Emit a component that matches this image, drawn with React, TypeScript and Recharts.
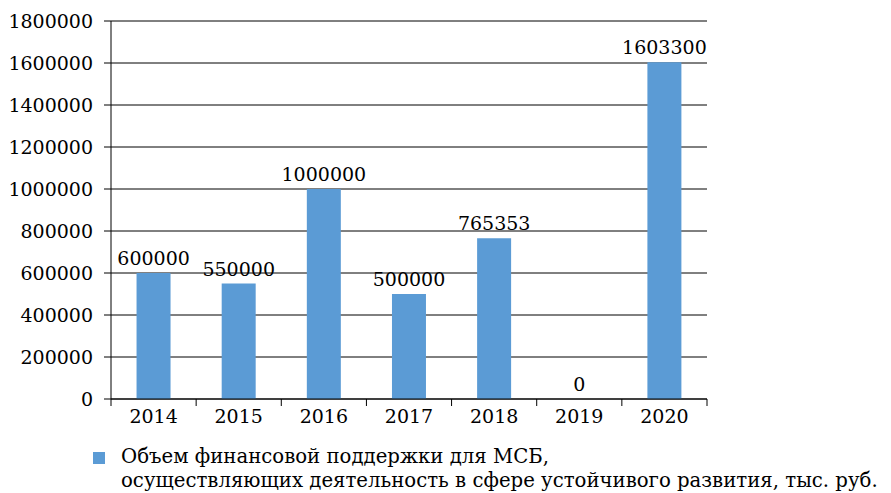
import React from 'react';
import { Bar, ComposedChart, CartesianGrid, LabelList, Line, XAxis, YAxis } from 'recharts';

const years = ['2014', '2015', '2016', '2017', '2018', '2019', '2020'];
const support = [600000, 550000, 1000000, 500000, 765353, 0, 1603300];
const yTicks = [0, 200000, 400000, 600000, 800000, 1000000, 1200000, 1400000, 1600000, 1800000];
const seriesName = 'Объем финансовой поддержки для МСБ,';
const seriesName2 = 'осуществляющих деятельность в сфере устойчивого развития, тыс. руб.';

const data = years.map((year, i) => ({ year, value: support[i] }));

const W = 891;
const H = 493;
const X_H = 30;
const M = { top: 21, right: 184, bottom: 94 - X_H, left: 0 };
const Y_W = 111;
const BAND = (W - M.left - M.right - Y_W) / years.length;
const FONT = '"DejaVu Serif", serif';
const BLUE = '#5b9bd5';

const XTick = (props: any) => {
  const { x, y, payload, index } = props;
  const half = BAND / 2;
  return (
    <g>
      <line x1={x - half} x2={x - half} y1={y - 8} y2={y - 1} stroke="#000" />
      {index === years.length - 1 && (
        <line x1={x + half} x2={x + half} y1={y - 8} y2={y - 1} stroke="#000" />
      )}
      <text x={x} y={y + 16} textAnchor="middle" fontSize={19} fontFamily={FONT} fill="#000">
        {payload.value}
      </text>
    </g>
  );
};

const BarLabel = (props: any) => {
  const { x, y, value } = props;
  return (
    <text x={x} y={y - 8} textAnchor="middle" fontSize={19} fontFamily={FONT} fill="#000">
      {value}
    </text>
  );
};

const legendText: React.CSSProperties = {
  position: 'absolute',
  left: 121,
  fontFamily: FONT,
  fontSize: 19.7,
  color: '#000',
  lineHeight: '24px',
  whiteSpace: 'nowrap',
};

export default function App() {
  return (
    <div style={{ position: 'fixed', left: 0, top: 0, width: W, height: H, background: '#fff', overflow: 'hidden' }}>
      <ComposedChart width={W} height={H} data={data} margin={M} barCategoryGap="30%">
        <CartesianGrid vertical={false} stroke="#000" />
        <XAxis
          dataKey="year"
          height={X_H}
          axisLine={{ stroke: '#000' }}
          tickLine={false}
          tick={<XTick />}
          interval={0}
        />
        <YAxis
          width={Y_W}
          domain={[0, 1800000]}
          ticks={yTicks}
          interval={0}
          axisLine={{ stroke: '#000' }}
          tickLine={{ stroke: '#000' }}
          tickSize={7}
          tickMargin={11}
          tick={{ fontSize: 19, fontFamily: FONT, fill: '#000' }}
        />
        <Bar dataKey="value" fill={BLUE} isAnimationActive={false} />
        <Line
          dataKey="value"
          stroke="none"
          strokeWidth={0}
          dot={false}
          activeDot={false}
          legendType="none"
          isAnimationActive={false}
        >
          <LabelList dataKey="value" content={<BarLabel />} />
        </Line>
      </ComposedChart>
      <span style={{ position: 'absolute', left: 93, top: 452, width: 12, height: 12, background: BLUE }} />
      <div style={{ ...legendText, top: 445 }}>{seriesName}</div>
      <div style={{ ...legendText, top: 469 }}>{seriesName2}</div>
    </div>
  );
}
